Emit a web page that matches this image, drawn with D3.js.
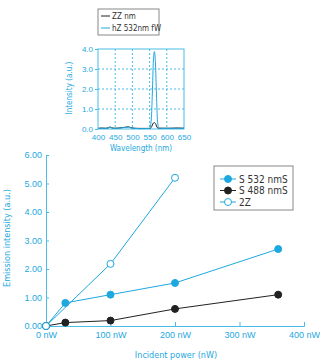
<!DOCTYPE html>
<html>
<head>
<meta charset="utf-8">
<script src="https://cdn.jsdelivr.net/npm/d3@7"></script>
<style>
  body { margin: 0; background: #fff; }
  svg { display: block; font-family: "Liberation Sans Narrow", "DejaVu Sans Condensed", sans-serif; }
</style>
</head>
<body>
<div class="graph"></div>
<script>
// main chart data
let mainX = [0, 30, 100, 200, 360]
let seriesA = [0, 0.81, 1.1, 1.51, 2.7]
let seriesB = [0, 0.12, 0.19, 0.6, 1.1]
let seriesCx = [0, 100, 200]
let seriesC = [0, 2.18, 5.2]
let mainXTicks = [0, 100, 200, 300, 400]
let mainYTicks = [0, 1, 2, 3, 4, 5, 6]
let mainNames = ['S 532 nmS', 'S 488 nmS', '2Z']

// inset spectrum data
let specX = [400, 410, 420, 430, 435, 440, 450, 460, 470, 480, 488, 495, 505, 520, 535, 550, 555, 558, 561, 564, 567, 570, 573, 577, 590, 610, 630, 650]
let specBlue = [0.02, 0.04, 0.03, 0.05, 0.09, 0.05, 0.03, 0.04, 0.06, 0.08, 0.1, 0.06, 0.03, 0.02, 0.02, 0.03, 0.5, 1.8, 3.4, 3.87, 3.3, 1.7, 0.4, 0.04, 0.03, 0.03, 0.04, 0.03]
let specDark = [0.03, 0.05, 0.04, 0.06, 0.1, 0.06, 0.04, 0.05, 0.07, 0.09, 0.11, 0.07, 0.04, 0.03, 0.03, 0.03, 0.08, 0.2, 0.3, 0.32, 0.28, 0.15, 0.06, 0.04, 0.04, 0.04, 0.05, 0.04]
let specXTicks = [400, 450, 500, 550, 600, 650]
let specYTicks = [0, 1, 2, 3, 4]
let specNames = ['ZZ nm', 'hZ 532nm fW']

let blue = '#1ea8e0',
    dark = '#222222',
    axisCol = '#49bde8'

let svg = d3.select('.graph').append('svg')
    .attr('width', 320)
    .attr('height', 362)

// ---------- main chart ----------
let x = d3.scaleLinear().domain([0, 400]).range([46, 304])
let y = d3.scaleLinear().domain([0, 6]).range([326, 155])

let gx = svg.append('g')
    .attr('transform', 'translate(0,326)')
    .call(d3.axisBottom(x).tickValues(mainXTicks).tickSize(-4).tickPadding(6)
        .tickFormat(function(d) { return d + ' nW' }))
let gy = svg.append('g')
    .attr('transform', 'translate(46,0)')
    .call(d3.axisLeft(y).tickValues(mainYTicks).tickSize(-3).tickPadding(4)
        .tickFormat(d3.format('.2f')))

for (let g of [gx, gy]) {
    g.select('.domain').attr('stroke', axisCol)
    g.selectAll('.tick line').attr('stroke', axisCol)
    g.selectAll('.tick text').attr('fill', blue).attr('font-size', 9)
}

svg.append('text')
    .attr('x', 176).attr('y', 358)
    .attr('text-anchor', 'middle')
    .attr('fill', blue).attr('font-size', 9)
    .text('Incident power (nW)')
svg.append('text')
    .attr('transform', 'translate(10,238) rotate(-90)')
    .attr('text-anchor', 'middle')
    .attr('fill', blue).attr('font-size', 9)
    .text('Emission intensity (a.u.)')

let line = d3.line()
    .x(function(d) { return x(d[0]) })
    .y(function(d) { return y(d[1]) })

let mainSeries = [
    { xs: mainX, ys: seriesA, color: blue, fill: blue },
    { xs: mainX, ys: seriesB, color: dark, fill: dark },
    { xs: seriesCx, ys: seriesC, color: blue, fill: '#fff' }
]

for (let s of mainSeries) {
    let pts = s.xs.map(function(v, i) { return [v, s.ys[i]] })
    svg.append('path')
        .datum(pts)
        .attr('d', line)
        .attr('fill', 'none')
        .attr('stroke', s.color)
        .attr('stroke-width', 1)
    svg.append('g').selectAll('circle')
        .data(pts)
        .join('circle')
        .attr('cx', function(d) { return x(d[0]) })
        .attr('cy', function(d) { return y(d[1]) })
        .attr('r', 3.5)
        .attr('fill', s.fill)
        .attr('stroke', s.color)
}

// main legend
let leg = svg.append('g').attr('transform', 'translate(214,166)')
leg.append('rect')
    .attr('width', 79).attr('height', 44)
    .attr('fill', '#fff').attr('stroke', '#888')
mainSeries.forEach(function(s, i) {
    let ly = 13 + i * 11.5
    leg.append('line').attr('x1', 6).attr('x2', 22).attr('y1', ly).attr('y2', ly)
        .attr('stroke', s.color)
    leg.append('circle').attr('cx', 14).attr('cy', ly).attr('r', 3.5)
        .attr('fill', s.fill).attr('stroke', s.color)
    leg.append('text').attr('x', 25).attr('y', ly + 3.5)
        .attr('font-size', 10).attr('fill', '#333')
        .text(mainNames[i])
})

// ---------- inset spectrum ----------
let sx = d3.scaleLinear().domain([400, 650]).range([98, 184])
let sy = d3.scaleLinear().domain([0, 4]).range([129, 49])

let inset = svg.append('g')
inset.append('rect')
    .attr('x', 98).attr('y', 49).attr('width', 86).attr('height', 80)
    .attr('fill', 'none').attr('stroke', axisCol)

inset.append('g').selectAll('line')
    .data(specXTicks.slice(1, -1))
    .join('line')
    .attr('x1', sx).attr('x2', sx).attr('y1', 49).attr('y2', 129)
    .attr('stroke', axisCol).attr('stroke-dasharray', '2,2')
inset.append('g').selectAll('line')
    .data(specYTicks.slice(1, -1))
    .join('line')
    .attr('y1', sy).attr('y2', sy).attr('x1', 98).attr('x2', 184)
    .attr('stroke', axisCol).attr('stroke-dasharray', '2,2')

let sgx = inset.append('g')
    .attr('transform', 'translate(0,129)')
    .call(d3.axisBottom(sx).tickValues(specXTicks).tickSize(0).tickPadding(5))
let sgy = inset.append('g')
    .attr('transform', 'translate(98,0)')
    .call(d3.axisLeft(sy).tickValues(specYTicks).tickSize(3).tickPadding(2)
        .tickFormat(d3.format('.1f')))
for (let g of [sgx, sgy]) {
    g.select('.domain').remove()
    g.selectAll('.tick line').attr('stroke', axisCol)
    g.selectAll('.tick text').attr('fill', blue).attr('font-size', 8)
}

inset.append('text')
    .attr('x', 141).attr('y', 151)
    .attr('text-anchor', 'middle')
    .attr('fill', blue).attr('font-size', 8)
    .text('Wavelength (nm)')
inset.append('text')
    .attr('transform', 'translate(72,88) rotate(-90)')
    .attr('text-anchor', 'middle')
    .attr('fill', blue).attr('font-size', 8)
    .text('Intensity (a.u.)')

let sline = d3.line()
    .curve(d3.curveMonotoneX)
    .x(function(d, i) { return sx(specX[i]) })
    .y(function(d) { return sy(d) })

inset.append('path').datum(specDark)
    .attr('d', sline).attr('fill', 'none')
    .attr('stroke', dark).attr('stroke-width', 1)
inset.append('path').datum(specBlue)
    .attr('d', sline).attr('fill', 'none')
    .attr('stroke', blue).attr('stroke-width', 1)

// inset legend
let sleg = svg.append('g').attr('transform', 'translate(98,9)')
sleg.append('rect')
    .attr('width', 61).attr('height', 26)
    .attr('fill', '#fff').attr('stroke', '#888')
;[dark, blue].forEach(function(c, i) {
    let ly = 7 + i * 12
    sleg.append('line').attr('x1', 3).attr('x2', 12).attr('y1', ly).attr('y2', ly)
        .attr('stroke', c)
    sleg.append('text').attr('x', 14).attr('y', ly + 3)
        .attr('font-size', 8).attr('fill', '#333')
        .text(specNames[i])
})
</script>
</body>
</html>
